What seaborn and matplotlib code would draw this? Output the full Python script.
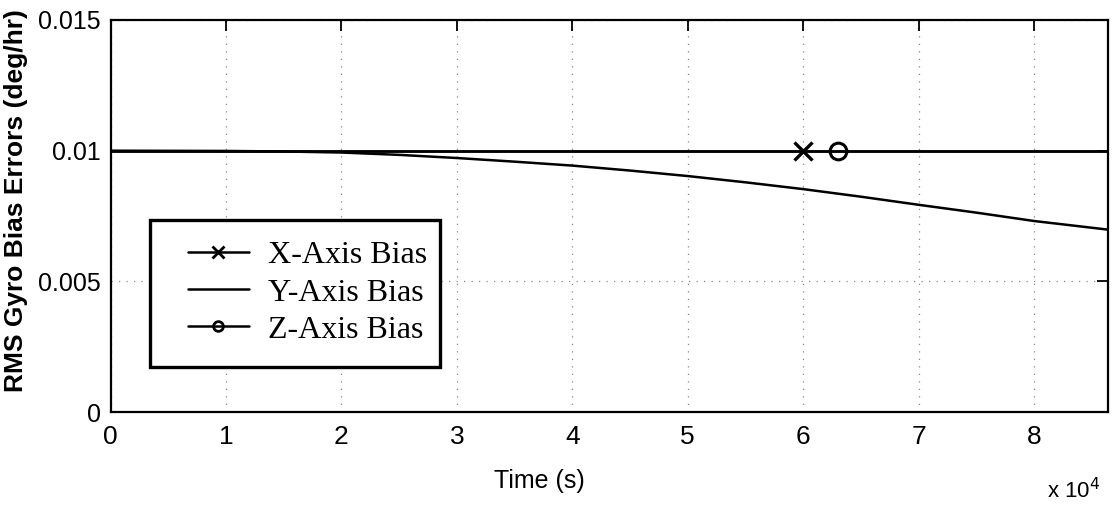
import matplotlib
matplotlib.use("Agg")
import matplotlib.pyplot as plt
from matplotlib.lines import Line2D
from matplotlib.patches import Rectangle
import pandas as pd
import seaborn as sns

# Time in seconds over one day
t_y = [0, 10000, 15000, 20000, 25000, 30000, 35000, 40000, 45000, 50000,
       55000, 60000, 65000, 70000, 75000, 80000, 86400]
y_bias = [0.0100, 0.00999, 0.00997, 0.00993, 0.00984, 0.00972, 0.00958,
          0.00943, 0.00924, 0.00903, 0.00879, 0.00853, 0.00824, 0.00793,
          0.00763, 0.00731, 0.00698]

t_x = [0, 60000, 86400]
x_bias = [0.0100, 0.0100, 0.0100]
t_z = [0, 63000, 86400]
z_bias = [0.0100, 0.0100, 0.0100]

series_labels = ["X-Axis Bias", "Y-Axis Bias", "Z-Axis Bias"]
x_ticks = [0, 10000, 20000, 30000, 40000, 50000, 60000, 70000, 80000]
x_tick_labels = ["0", "1", "2", "3", "4", "5", "6", "7", "8"]
y_ticks = [0, 0.005, 0.01, 0.015]
y_tick_labels = ["0", "0.005", "0.01", "0.015"]

sns.set_theme(style="white")
plt.rcParams["font.family"] = ["Liberation Sans", "DejaVu Sans"]
plt.rcParams["text.color"] = "black"
plt.rcParams["axes.labelcolor"] = "black"
plt.rcParams["xtick.color"] = "black"
plt.rcParams["ytick.color"] = "black"

fig = plt.figure(figsize=(11.13, 5.05), dpi=100)
ax = fig.add_axes([0.0993, 0.184, 0.8962, 0.7764])

lw = 1.8
df_x = pd.DataFrame({"t": t_x, "v": x_bias})
df_y = pd.DataFrame({"t": t_y, "v": y_bias})
df_z = pd.DataFrame({"t": t_z, "v": z_bias})

sns.lineplot(data=df_y, x="t", y="v", ax=ax, color="black", lw=lw,
             sort=False, estimator=None, zorder=3)
sns.lineplot(data=df_x, x="t", y="v", ax=ax, color="black", lw=lw,
             marker="x", markevery=[1], markersize=13, markeredgewidth=2.4,
             markeredgecolor="black",
             sort=False, estimator=None, zorder=3)
sns.lineplot(data=df_z, x="t", y="v", ax=ax, color="black", lw=lw,
             marker="o", markevery=[1], markersize=12, markeredgewidth=2.2,
             markeredgecolor="black", markerfacecolor="none",
             sort=False, estimator=None, zorder=3)

ax.set_xlim(0, 86400)
ax.set_ylim(0, 0.015)
ax.set_xticks(x_ticks)
ax.set_xticklabels(x_tick_labels, fontsize=19)
ax.set_yticks(y_ticks)
ax.set_yticklabels(y_tick_labels, fontsize=18)

ax.tick_params(direction="in", length=8, width=1.3, top=True, right=True,
               colors="black", pad=7)
ax.tick_params(axis="x", pad=9)
ax.grid(True, color="#888888", linestyle=(0, (1, 5)), linewidth=0.9)
for s in ax.spines.values():
    s.set_linewidth(1.6)
    s.set_color("black")
    s.set_visible(True)

ax.set_xlabel("Time (s)", fontsize=18)
ax.xaxis.set_label_coords(0.43, -0.145)
ax.set_ylabel("RMS Gyro Bias Errors (deg/hr)", fontsize=19, fontweight="bold")
ax.yaxis.set_label_coords(-0.083, 0.54)

ax.text(0.992, -0.2, r"x 10$^4$", transform=ax.transAxes, fontsize=16,
        ha="right", va="center")

# Legend box
ax.add_patch(Rectangle((0.0396, 0.115), 0.291, 0.375, transform=ax.transAxes,
                       facecolor="white", edgecolor="black", lw=2.4, zorder=4))
handles = [
    Line2D([], [], color="black", lw=lw, marker="x", markersize=9,
           markeredgewidth=2.0),
    Line2D([], [], color="black", lw=lw),
    Line2D([], [], color="black", lw=lw, marker="o", markersize=7,
           markeredgewidth=2.0, markerfacecolor="none"),
]
leg = ax.legend(handles, series_labels, loc="upper left",
                bbox_to_anchor=(0.0777, 0.436), frameon=False,
                prop={"family": ["Liberation Serif", "DejaVu Serif"], "size": 23},
                handlelength=1.9, handletextpad=0.6, labelspacing=0.24,
                borderpad=0.0, borderaxespad=0.0)
leg.set_zorder(5)

fig.savefig("out.png", dpi=100, facecolor="white")
